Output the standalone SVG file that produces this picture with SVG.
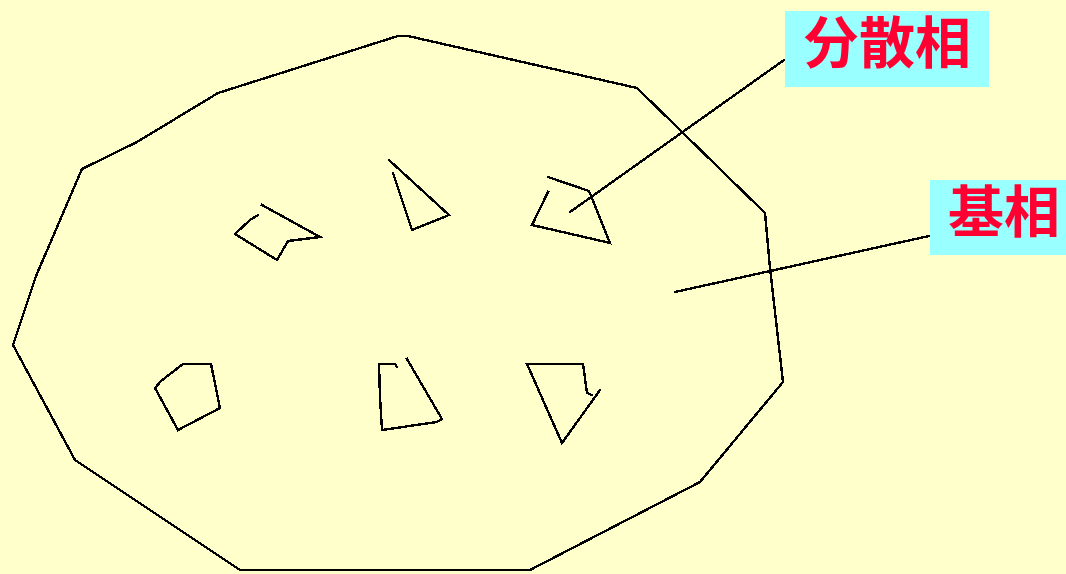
<svg xmlns="http://www.w3.org/2000/svg" width="1066" height="574" viewBox="0 0 1066 574">
<style>
.ln{fill:none;stroke:#000;stroke-width:2.4;stroke-linejoin:miter;stroke-linecap:square;shape-rendering:crispEdges}
.box{fill:#99FFFF}
.lbl{fill:#FF0033;font-family:"Noto Sans CJK SC","Noto Sans CJK JP",sans-serif;font-weight:bold;font-size:56px}
</style>
<rect width="1066" height="574" fill="#FFFFCC"/>
<g id="matrix">
<polygon class="ln" points="398,36 408,36 637,88 765,213 770,268 783,382 700,482 530,570 240,570 75,460 13,345 36,276 82,169 137,142 218,93"/>
</g>
<g id="particle-1"><polyline class="ln" points="262,205 320,237 288,241 277,260 235,234 250,220 258,215"/></g>
<g id="particle-2"><polyline class="ln" points="389,160 449,215 412,230 393,173"/></g>
<g id="particle-3"><polyline class="ln" points="548,177 589,191 610,243 532,225 548,192"/></g>
<g id="particle-4"><polygon class="ln" points="183,364 211,364 220,408 178,430 155,388 161,381"/></g>
<g id="particle-5"><polyline class="ln" points="397,367 395,364 379,364 380,397 382,430 437,422 442,419 407,359"/></g>
<g id="particle-6"><polyline class="ln" points="592,395 587,393 583,364 527,364 562,443 600,390"/></g>
<g id="connectors">
<line class="ln" x1="570" y1="212" x2="784" y2="60"/>
<line class="ln" x1="675" y1="292" x2="929" y2="236"/>
</g>
<g id="label-dispersed">
<rect class="box" x="785" y="11" width="204" height="76"/>
<text class="lbl" x="803" y="63">分散相</text>
</g>
<g id="label-matrix">
<rect class="box" x="930" y="180" width="136" height="75"/>
<text class="lbl" x="948" y="232">基相</text>
</g>
</svg>
